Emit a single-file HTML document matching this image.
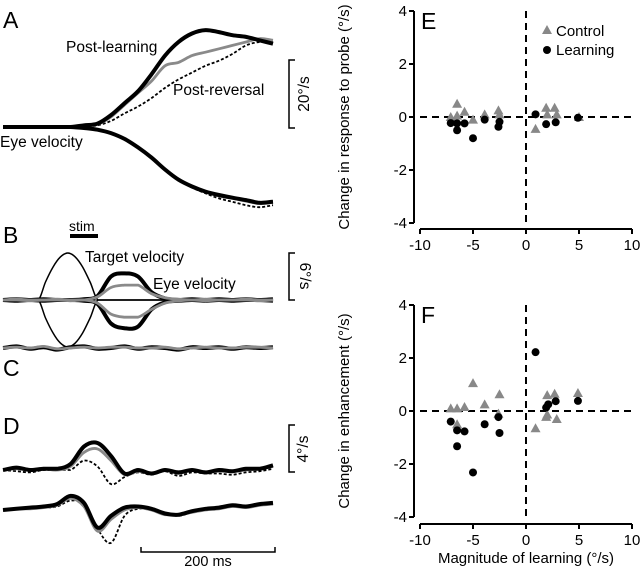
<!DOCTYPE html>
<html><head><meta charset="utf-8">
<style>
html,body{margin:0;padding:0;background:#fff;}
svg{display:block;font-family:"Liberation Sans",Arial,sans-serif;}
</style></head>
<body>
<svg id="fig" width="640" height="567" viewBox="0 0 640 567">
  <text x="3" y="28" font-size="23">A</text>
  <text x="66" y="52" font-size="15.5">Post-learning</text>
  <text x="173" y="95" font-size="15.5">Post-reversal</text>
  <text x="0" y="147" font-size="15.5">Eye velocity</text>
  <text x="3" y="243" font-size="23">B</text>
  <text x="69" y="231" font-size="14">stim</text>
  <rect x="70" y="234" width="28" height="4" fill="#000"/>
  <text x="85" y="262" font-size="15.5">Target velocity</text>
  <text x="153" y="289" font-size="15.5">Eye velocity</text>
  <text x="3" y="376" font-size="23">C</text>
  <text x="3" y="434" font-size="23">D</text>

  <path d="M295 60 H289 V128 H295" fill="none" stroke="#000" stroke-width="1.5"/>
  <text transform="translate(309,94) rotate(-90)" text-anchor="middle" font-size="15.5">20°/s</text>
  <path d="M295 253 H289 V300 H295" fill="none" stroke="#000" stroke-width="1.5"/>
  <text transform="translate(300,276) rotate(90)" text-anchor="middle" font-size="15.5">6°/s</text>
  <path d="M295 425 H289 V472 H295" fill="none" stroke="#000" stroke-width="1.5"/>
  <text transform="translate(308,449) rotate(-90)" text-anchor="middle" font-size="15.5">4°/s</text>
  <path d="M141 547 V552 H275 V547" fill="none" stroke="#000" stroke-width="1.5"/>
  <text x="208" y="566" text-anchor="middle" font-size="14.5">200 ms</text>

  <g id="traces"></g>

  <g id="panelE">
    <text x="421" y="29" font-size="23">E</text>
    <text transform="translate(349,117) rotate(-90)" text-anchor="middle" font-size="15">Change in response to probe (°/s)</text>
  </g>
  <g id="panelF">
    <text x="421" y="323" font-size="23">F</text>
    <text transform="translate(349,411) rotate(-90)" text-anchor="middle" font-size="15">Change in enhancement (°/s)</text>
    <text x="526" y="563" text-anchor="middle" font-size="15">Magnitude of learning (°/s)</text>
  </g>
  <g>
    <polygon points="547,25 552,34 542,34" fill="#888"/>
    <text x="556" y="36" font-size="15">Control</text>
    <circle cx="547" cy="50" r="4" fill="#000"/>
    <text x="556" y="55" font-size="15">Learning</text>
  </g>
</svg>
<script>
const times = [0,20,40,60,80,100,120,140,160,180,200,220,240,260,280,300,320,340,360,380,400];
const aPostLearningUp = [0,0,0,0,0,0,0.5,1,3.5,7,10.5,15.5,21,25,27.5,28.5,27.9,27,26.5,25.5,24.5];
const aControlUp      = [0,0,0,0,0,0,0.3,0.8,3,6.5,10,13.5,18,19,21,22,23,24,25,26,25.5];
const aReversalUp     = [0,0,0,0,0,0,0.2,0.5,1.8,4,6,8.5,11.5,14,16,18,19.5,21.5,24,25,25];
const aPostLearningDn = [0,0,0,0,0,0,-0.3,-0.8,-1.8,-3.5,-6,-9,-12.5,-15.5,-17.5,-19,-20,-20.8,-21.5,-22.3,-22];
const aControlDn      = [0,0,0,0,0,0,-0.3,-0.8,-1.8,-3.5,-6,-9,-12.5,-15.3,-17.5,-19,-20.3,-21,-21.8,-22.5,-22.2];
const aReversalDn     = [0,0,0,0,0,0,-0.3,-0.8,-1.8,-3.5,-6,-9,-12.5,-15.5,-17.8,-19.5,-21,-22,-23,-23.6,-23];

const bTimes = [0,20,40,60,80,100,120,140,160,180,200,220,240,260,280,300,320,340,360,380,400];
const bBlackUp = [0,0.1,0,0.1,0,0,0.1,0.5,3,3.4,3,1,0.2,0,0.1,0,0.1,0,0.1,0,0.1];
const bBlackDn = [0,-0.1,0,-0.1,0,0,-0.1,-0.5,-3,-3.6,-3.4,-1.2,-0.3,-0.1,0,-0.1,0,-0.1,0,0,-0.1];
const bGrayUp  = [0,0.1,0,0,0.1,0,0,0.4,1.6,1.9,1.9,0.8,0.3,0.1,0,0.1,0,0,0.1,0,0];
const bGrayDn  = [0,0,-0.1,0,0,-0.1,0,-0.4,-1.8,-2.2,-2.2,-1.2,-0.4,-0.1,0,-0.1,0,0,0,-0.1,0];
const targetTimes = [0,52,63,74,85,96,107,118,129,141,400];
const targetUp = [0,0,2.3,4.2,5.5,6,5.5,4.2,2.3,0,0];
const targetDn = [0,0,-2.3,-4.2,-5.5,-6,-5.5,-4.2,-2.3,0,0];

const cBlack = [0,0.2,-0.1,0.1,-0.2,0.1,0.2,-0.1,0,0.2,-0.1,0.1,0,-0.2,0.1,0,0.1,-0.1,0.1,0,0.1];
const cGray  = [0,0.1,0,0.2,-0.1,0,0.1,0,0.1,0.1,0,0,0.1,-0.1,0,0.1,0,0,0.1,0.1,0];

const dBlackUp = [0,0.2,0,0.1,0.1,0.5,2.0,2.3,1.2,-0.3,0,-0.3,0,-0.2,0,-0.2,0,-0.1,0.1,0.1,0.4];
const dGrayUp  = [0,0.1,0,0.1,0,0.3,1.5,1.8,0.8,-0.4,-0.1,-0.3,0,-0.3,0,-0.2,-0.1,-0.1,0,0.1,0.3];
const dRevUp   = [0,-0.1,-0.2,0,0,0,0.8,0.3,-1.2,-0.6,-0.2,-0.4,-0.1,-0.5,-0.2,-0.3,-0.3,-0.4,-0.2,-0.1,0.1];
const dBlackDn = [0,0.1,0.2,0.3,0.5,1.2,0.6,-1.5,-0.5,0.2,0.3,0.1,-0.3,-0.4,-0.1,0.1,0.2,0.4,0.3,0.5,0.6];
const dGrayDn  = [0,0.1,0.1,0.2,0.4,1.0,0.3,-1.8,-0.8,0,0.2,0,-0.4,-0.4,-0.2,0,0.1,0.3,0.2,0.4,0.5];
const dRevDn   = [0,0.1,0.2,0.2,0.3,0.8,0.5,-1.6,-2.8,-0.5,0.1,0,-0.3,-0.5,-0.2,0,0.1,0.3,0.2,0.4,0.5];

const eCtrlX = [-7.1,-6.5,-6.5,-5.8,-5,-3.9,-2.6,-2.5,0.9,1.9,2,2.7,2.9,5];
const eCtrlY = [0,0.5,0.05,0.2,-0.1,0.1,0.25,0.1,-0.45,0.35,0.1,0.35,0.1,0];
const eLearnX = [-7.1,-6.5,-6.5,-5.8,-5,-3.9,-2.6,-2.5,0.9,1.9,2.8,4.9];
const eLearnY = [-0.23,-0.24,-0.5,-0.24,-0.8,-0.1,-0.37,-0.18,0.1,-0.27,-0.2,-0.03];
const fCtrlX = [-7.1,-6.5,-6.5,-5.8,-5,-3.9,-2.5,-2.6,0.9,2,1.9,2,2.7,2.9,4.9];
const fCtrlY = [0.1,0.1,-0.5,0.15,1.05,0.25,0.63,-0.1,-0.65,0.6,-0.22,-0.13,0.65,-0.3,0.68];
const fLearnX = [-7.1,-6.5,-6.5,-5.8,-5,-3.9,-2.6,-2.5,0.9,1.9,2.1,2.8,4.9];
const fLearnY = [-0.4,-0.73,-1.33,-0.77,-2.32,-0.5,-0.23,-0.83,2.22,0.13,0.25,0.37,0.38];
const xTicks = [-10,-5,0,5,10];
const yTicks = [4,2,0,-2,-4];

const NS = 'http://www.w3.org/2000/svg';
const traces = document.getElementById('traces');

function tx(t){ return 3 + t*0.675; }
function smoothPath(xs, ys){
  const n = xs.length;
  const m = xs.map((x,i)=>{
    const a=Math.max(i-1,0), b=Math.min(i+1,n-1);
    if (b===a) return 0;
    return (ys[b]-ys[a])/(xs[b]-xs[a]);
  });
  let d = 'M' + xs[0].toFixed(1) + ' ' + ys[0].toFixed(1);
  for (let i=0;i<n-1;i++){
    const dx = xs[i+1]-xs[i];
    const s = (ys[i+1]-ys[i])/dx;
    let m1=m[i], m2=m[i+1];
    if (ys[i+1]===ys[i]) { m1=0; m2=0; }
    const c1x=xs[i]+dx/3, c1y=ys[i]+m1*dx/3, c2x=xs[i+1]-dx/3, c2y=ys[i+1]-m2*dx/3;
    d += ' C'+c1x.toFixed(1)+' '+c1y.toFixed(1)+' '+c2x.toFixed(1)+' '+c2y.toFixed(1)+' '+xs[i+1].toFixed(1)+' '+ys[i+1].toFixed(1);
  }
  return d;
}
function trace(parent, ts, vals, base, scale, style, name){
  const p = document.createElementNS(NS,'path');
  p.setAttribute('d', smoothPath(ts.map(tx), vals.map(v=>base - v*scale)));
  p.setAttribute('fill','none');
  p.setAttribute('stroke', style.c);
  p.setAttribute('stroke-width', style.w);
  p.setAttribute('stroke-linejoin','round');
  if (style.dash) p.setAttribute('stroke-dasharray', style.dash);
  
  
  parent.appendChild(p);
}
const BLK={c:'#000',w:4}, GRY={c:'#8a8a8a',w:2.8}, DSH={c:'#000',w:1.8,dash:'3,2'}, THIN={c:'#000',w:1.5};

const aBase=127, aScale=3.4;
trace(traces,times,aReversalUp,aBase,aScale,DSH,'a-post-reversal-up');
trace(traces,times,aControlUp,aBase,aScale,GRY,'a-control-up');
trace(traces,times,aPostLearningUp,aBase,aScale,BLK,'a-post-learning-up');
trace(traces,times,aReversalDn,aBase,aScale,DSH,'a-post-reversal-down');
trace(traces,times,aControlDn,aBase,aScale,GRY,'a-control-down');
trace(traces,times,aPostLearningDn,aBase,aScale,BLK,'a-post-learning-down');

const bBase=300, bScale=7.83;
trace(traces,targetTimes,targetUp,bBase,bScale,THIN,'b-target-up');
trace(traces,targetTimes,targetDn,bBase,bScale,THIN,'b-target-down');
trace(traces,bTimes,bBlackUp,bBase,bScale,BLK,'b-eye-black-up');
trace(traces,bTimes,bBlackDn,bBase,bScale,BLK,'b-eye-black-down');
trace(traces,bTimes,bGrayUp,bBase,bScale,GRY,'b-eye-gray-up');
trace(traces,bTimes,bGrayDn,bBase,bScale,GRY,'b-eye-gray-down');

trace(traces,times,cBlack,348,7.83,BLK,'c-black');
trace(traces,times,cGray,348,7.83,GRY,'c-gray');

const dScale=11.75;
trace(traces,times,dRevUp,470,dScale,DSH,'d-reversal-up');
trace(traces,times,dGrayUp,470,dScale,GRY,'d-gray-up');
trace(traces,times,dBlackUp,470,dScale,BLK,'d-black-up');
trace(traces,times,dRevDn,510,dScale,DSH,'d-reversal-down');
trace(traces,times,dGrayDn,510,dScale,GRY,'d-gray-down');
trace(traces,times,dBlackDn,510,dScale,BLK,'d-black-down');

function scatter(g, yTop, yBot, axisY, pfx, cx, cy, lx, ly){
  const sx = v => 420 + (v+10)*10.6;
  const sy = v => yTop + (4-v)*(yBot-yTop)/8;
  const yAxis = document.createElementNS(NS,'line');
  yAxis.setAttribute('x1',414); yAxis.setAttribute('x2',414);
  yAxis.setAttribute('y1',yTop); yAxis.setAttribute('y2',yBot);
  yAxis.setAttribute('stroke','#000'); yAxis.setAttribute('stroke-width',2);
  
  
  g.appendChild(yAxis);
  const xAxis = document.createElementNS(NS,'line');
  xAxis.setAttribute('x1',420); xAxis.setAttribute('x2',632);
  xAxis.setAttribute('y1',axisY); xAxis.setAttribute('y2',axisY);
  xAxis.setAttribute('stroke','#000'); xAxis.setAttribute('stroke-width',2);
  
  
  g.appendChild(xAxis);
  yTicks.forEach(v=>{
    const l=document.createElementNS(NS,'line');
    l.setAttribute('x1',409); l.setAttribute('x2',414); l.setAttribute('y1',sy(v)); l.setAttribute('y2',sy(v));
    l.setAttribute('stroke','#000'); l.setAttribute('stroke-width',2);
    
    
    g.appendChild(l);
    const t=document.createElementNS(NS,'text');
    t.setAttribute('x',407); t.setAttribute('y',sy(v)+5); t.setAttribute('text-anchor','end'); t.setAttribute('font-size','15');
    t.textContent=v;
    
    
    g.appendChild(t);
  });
  xTicks.forEach(v=>{
    const l=document.createElementNS(NS,'line');
    l.setAttribute('x1',sx(v)); l.setAttribute('x2',sx(v)); l.setAttribute('y1',axisY); l.setAttribute('y2',axisY+5);
    l.setAttribute('stroke','#000'); l.setAttribute('stroke-width',2);
    
    
    g.appendChild(l);
    const t=document.createElementNS(NS,'text');
    t.setAttribute('x',sx(v)); t.setAttribute('y',axisY+21); t.setAttribute('text-anchor','middle'); t.setAttribute('font-size','15');
    t.textContent=v;
    
    
    g.appendChild(t);
  });
  const h=document.createElementNS(NS,'line');
  h.setAttribute('x1',420); h.setAttribute('x2',632); h.setAttribute('y1',sy(0)); h.setAttribute('y2',sy(0));
  h.setAttribute('stroke','#000'); h.setAttribute('stroke-width',2); h.setAttribute('stroke-dasharray','7,5');
  
  
  g.appendChild(h);
  const vl=document.createElementNS(NS,'line');
  vl.setAttribute('x1',sx(0)); vl.setAttribute('x2',sx(0)); vl.setAttribute('y1',yTop); vl.setAttribute('y2',yBot);
  vl.setAttribute('stroke','#000'); vl.setAttribute('stroke-width',2); vl.setAttribute('stroke-dasharray','7,5');
  
  
  g.appendChild(vl);
  cx.forEach((x,i)=>{
    const X=sx(x), Y=sy(cy[i]);
    const p=document.createElementNS(NS,'polygon');
    p.setAttribute('points', X+','+(Y-5)+' '+(X+5)+','+(Y+4)+' '+(X-5)+','+(Y+4));
    p.setAttribute('fill','#888');
    
    
    g.appendChild(p);
  });
  lx.forEach((x,i)=>{
    const c=document.createElementNS(NS,'circle');
    c.setAttribute('cx',sx(x)); c.setAttribute('cy',sy(ly[i])); c.setAttribute('r',4);
    c.setAttribute('fill','#000');
    
    
    g.appendChild(c);
  });
}
scatter(document.getElementById('panelE'), 11, 223, 229, 'e', eCtrlX, eCtrlY, eLearnX, eLearnY);
scatter(document.getElementById('panelF'), 305, 517, 524, 'f', fCtrlX, fCtrlY, fLearnX, fLearnY);
</script>
</body></html>
